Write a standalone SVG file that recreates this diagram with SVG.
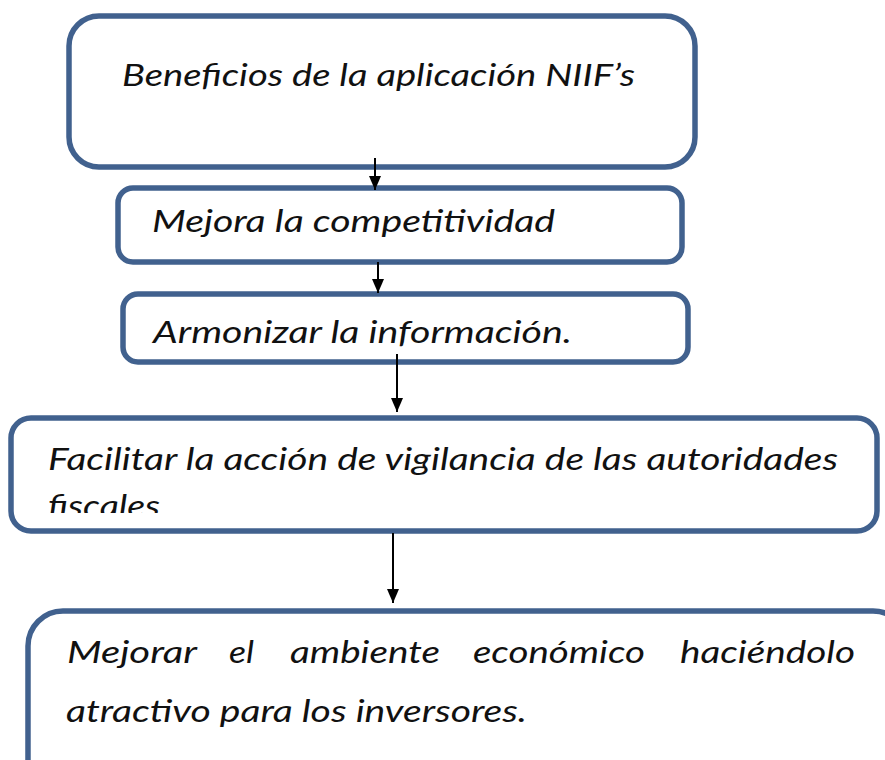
<svg xmlns="http://www.w3.org/2000/svg" width="885" height="760" viewBox="0 0 885 760">
<style>
.box{fill:#fff;stroke:#41618e;stroke-width:5.5}
.t{font-family:Lato,"Open Sans","Liberation Sans",sans-serif;font-style:italic;font-size:30px;fill:#111}
.c{stroke:#000;stroke-width:2;fill:none}
</style>
<defs>
<marker id="ah" viewBox="0 0 14 12" refX="14" refY="6" markerWidth="14" markerHeight="12" markerUnits="userSpaceOnUse" orient="auto">
<path d="M0,0 L14,6 L0,12 z" fill="#000"/>
</marker>
<clipPath id="c4"><rect x="10" y="418" width="870" height="95"/></clipPath>
</defs>
<rect width="885" height="760" fill="#fff"/>
<g id="n1"><rect class="box" x="69" y="16" width="626" height="151" rx="30"/>
<text class="t" x="122" y="86" textLength="513" lengthAdjust="spacingAndGlyphs">Beneficios de la aplicación NIIF’s</text></g>
<g id="n2"><rect class="box" x="118" y="188" width="564" height="74" rx="15"/>
<text class="t" x="152" y="232" textLength="403" lengthAdjust="spacingAndGlyphs">Mejora la competitividad</text></g>
<g id="n3"><rect class="box" x="123" y="294" width="565" height="68" rx="15"/>
<text class="t" x="153" y="343" textLength="419" lengthAdjust="spacingAndGlyphs">Armonizar la información.</text></g>
<g id="n4"><rect class="box" x="11" y="418" width="866" height="113" rx="20"/>
<g clip-path="url(#c4)">
<text class="t" x="48" y="470" textLength="790" lengthAdjust="spacingAndGlyphs">Facilitar la acción de vigilancia de las autoridades</text>
<text class="t" x="48" y="517" textLength="112" lengthAdjust="spacingAndGlyphs">fiscales</text></g></g>
<g id="n5"><rect class="box" x="28" y="611" width="880" height="190" rx="35"/>
<text class="t" x="67" y="663" textLength="130" lengthAdjust="spacingAndGlyphs">Mejorar</text>
<text class="t" x="229" y="663" textLength="25" lengthAdjust="spacingAndGlyphs">el</text>
<text class="t" x="290" y="663" textLength="150" lengthAdjust="spacingAndGlyphs">ambiente</text>
<text class="t" x="473" y="663" textLength="172" lengthAdjust="spacingAndGlyphs">económico</text>
<text class="t" x="680" y="663" textLength="175" lengthAdjust="spacingAndGlyphs">haciéndolo</text>
<text class="t" x="66" y="722" textLength="461" lengthAdjust="spacingAndGlyphs">atractivo para los inversores.</text></g>
<g id="connectors">
<line class="c" x1="375" y1="158" x2="375" y2="190" marker-end="url(#ah)"/>
<line class="c" x1="378" y1="262" x2="378" y2="293" marker-end="url(#ah)"/>
<line class="c" x1="397" y1="354" x2="397" y2="412" marker-end="url(#ah)"/>
<line class="c" x1="393" y1="533" x2="393" y2="603" marker-end="url(#ah)"/>
</g>
</svg>
